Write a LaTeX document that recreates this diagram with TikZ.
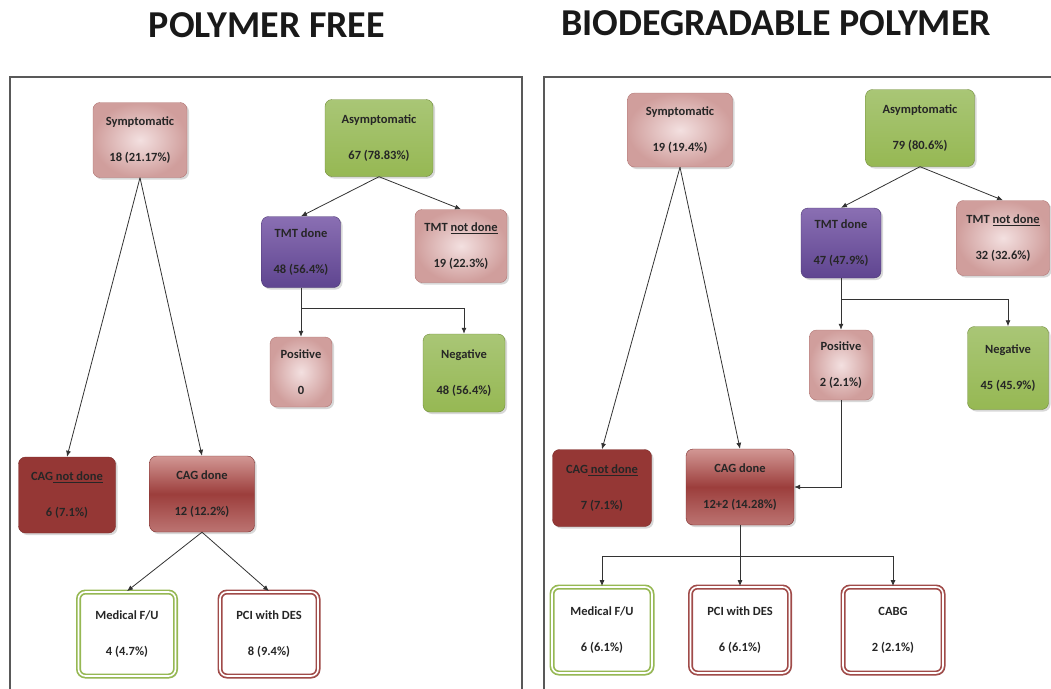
\documentclass[tikz,border=0pt]{standalone}
\usepackage{fontspec}
\setmainfont{Carlito}
\usetikzlibrary{shadows,arrows.meta}
\definecolor{roseDark}{HTML}{D09E9C}
\definecolor{roseLight}{HTML}{F3E0E0}
\definecolor{roseLine}{HTML}{B07472}
\definecolor{oliveFill}{HTML}{96B853}
\definecolor{oliveTop}{HTML}{A9C676}
\definecolor{oliveLine}{HTML}{6F8A38}
\definecolor{violetTop}{HTML}{8A6FB3}
\definecolor{violetBot}{HTML}{5F4590}
\definecolor{violetLine}{HTML}{4A3672}
\definecolor{brickFill}{HTML}{953735}
\definecolor{brickLine}{HTML}{7A2B29}
\definecolor{brickTop}{HTML}{D29794}
\definecolor{brickMid}{HTML}{9C3E3C}
\definecolor{brickBot}{HTML}{BC7472}
\tikzset{
    base-box/.style = {rectangle, rounded corners=7pt, align=center, inner sep=3pt, text=black!85,
        font=\bfseries\fontsize{12.5}{36}\selectfont,
        drop shadow={shadow xshift=2pt, shadow yshift=-2pt, fill=black!30, opacity=0.5}},
    pink-box/.style = {base-box, draw=roseLine, thin, inner color=roseLight, outer color=roseDark},
    green-box/.style = {base-box, draw=oliveLine, thin, top color=oliveTop, bottom color=oliveFill},
    purple-box/.style = {base-box, draw=violetLine, thin, top color=violetTop, bottom color=violetBot},
    darkred-box/.style = {base-box, draw=brickLine, thin, fill=brickFill},
    red-box/.style = {base-box, draw=brickLine, thin, top color=brickTop, bottom color=brickBot, middle color=brickMid},
    green-outcome/.style = {base-box, fill=white, draw=oliveFill, line width=1.7pt, double=white, double distance=1.6pt},
    red-outcome/.style = {base-box, fill=white, draw=brickFill!90, line width=1.7pt, double=white, double distance=1.6pt},
    panel-title/.style = {font=\bfseries\fontsize{38}{40}\selectfont, text=black!90},
    frame/.style = {draw=black!65, line width=1.5pt},
    link/.style = {draw=black!80, line width=0.8pt, -{Latex[length=6pt,width=5pt]}},
    link-plain/.style = {draw=black!80, line width=0.8pt},
}
\begin{document}
\begin{tikzpicture}[x=1pt, y=-1pt]
\useasboundingbox (0,0) rectangle (1051,688);
% titles and panels
\node[panel-title] (titleL) at (267,25) {POLYMER FREE};
\node[panel-title] (titleR) at (776,23) {BIODEGRADABLE POLYMER};
\draw[frame] (10,700) -- (10,77) -- (522,77) -- (522,700);
\draw[frame] (544,700) -- (544,77) -- (1070,77);

% polymer free
\node[pink-box, minimum width=94pt, minimum height=75pt] (symL) at (140,140) {Symptomatic\\18 (21.17\%)};
\node[green-box, minimum width=108pt, minimum height=77pt] (asymL) at (379,138) {Asymptomatic\\67 (78.83\%)};
\node[purple-box, minimum width=79pt, minimum height=71pt] (tmtL) at (301,252) {TMT done\\48 (56.4\%)};
\node[pink-box, minimum width=92pt, minimum height=73pt] (tmtnL) at (461,246) {TMT \underline{not done}\\19 (22.3\%)};
\node[pink-box, minimum width=62pt, minimum height=70pt] (posL) at (301,372) {Positive\\0};
\node[green-box, minimum width=82pt, minimum height=78pt] (negL) at (464,373) {Negative\\48 (56.4\%)};
\node[darkred-box, minimum width=97pt, minimum height=76pt] (cagnL) at (67,495) {CAG\underline{ not done}\\6 (7.1\%)};
\node[red-box, minimum width=105pt, minimum height=76pt] (cagL) at (202,494) {CAG done\\12 (12.2\%)};
\node[green-outcome, minimum width=97pt, minimum height=84pt] (medL) at (127,634) {Medical F/U\\4 (4.7\%)};
\node[red-outcome, minimum width=98pt, minimum height=84pt] (pciL) at (269,634) {PCI with DES\\8 (9.4\%)};
\coordinate (splitL) at (301,308);

\draw[link] (symL.south) -- (cagnL.north);
\draw[link] (symL.south) -- (cagL.north);
\draw[link] (asymL.south) -- (tmtL.north);
\draw[link] (asymL.south) -- (tmtnL.north);
\draw[link-plain] (tmtL.south) -- (splitL);
\draw[link] (splitL) -- (posL.north);
\draw[link] (splitL) -| (negL.north);
\draw[link] (cagL.south) -- (medL.north);
\draw[link] (cagL.south) -- (pciL.north);

% biodegradable polymer
\node[pink-box, minimum width=105pt, minimum height=74pt] (symR) at (680,130) {Symptomatic\\19 (19.4\%)};
\node[green-box, minimum width=109pt, minimum height=77pt] (asymR) at (920,128) {Asymptomatic\\79 (80.6\%)};
\node[purple-box, minimum width=80pt, minimum height=70pt] (tmtR) at (841,243) {TMT done\\47 (47.9\%)};
\node[pink-box, minimum width=93pt, minimum height=75pt] (tmtnR) at (1003,238) {TMT \underline{not done}\\32 (32.6\%)};
\node[pink-box, minimum width=63pt, minimum height=70pt] (posR) at (841,365) {Positive\\2 (2.1\%)};
\node[green-box, minimum width=81pt, minimum height=83pt] (negR) at (1008,368) {Negative\\45 (45.9\%)};
\node[darkred-box, minimum width=99pt, minimum height=77pt] (cagnR) at (602,488) {CAG\underline{ not done}\\7 (7.1\%)};
\node[red-box, minimum width=108pt, minimum height=76pt] (cagR) at (740,487) {CAG done\\12+2 (14.28\%)};
\node[green-outcome, minimum width=100pt, minimum height=86pt] (medR) at (602,630) {Medical F/U\\6 (6.1\%)};
\node[red-outcome, minimum width=99pt, minimum height=86pt] (pciR) at (740,630) {PCI with DES\\6 (6.1\%)};
\node[red-outcome, minimum width=100pt, minimum height=86pt] (cabgR) at (893,630) {CABG\\2 (2.1\%)};
\coordinate (splitR) at (841,299);
\coordinate (busR) at (740,556);

\draw[link] (symR.south) -- (cagnR.north);
\draw[link] (symR.south) -- (cagR.north);
\draw[link] (asymR.south) -- (tmtR.north);
\draw[link] (asymR.south) -- (tmtnR.north);
\draw[link-plain] (tmtR.south) -- (splitR);
\draw[link] (splitR) -- (posR.north);
\draw[link] (splitR) -| (negR.north);
\draw[link] (posR.south) |- (cagR.east);
\draw[link-plain] (cagR.south) -- (busR);
\draw[link] (busR) -| (medR.north);
\draw[link] (busR) -- (pciR.north);
\draw[link] (busR) -| (cabgR.north);
\end{tikzpicture}
\end{document}
